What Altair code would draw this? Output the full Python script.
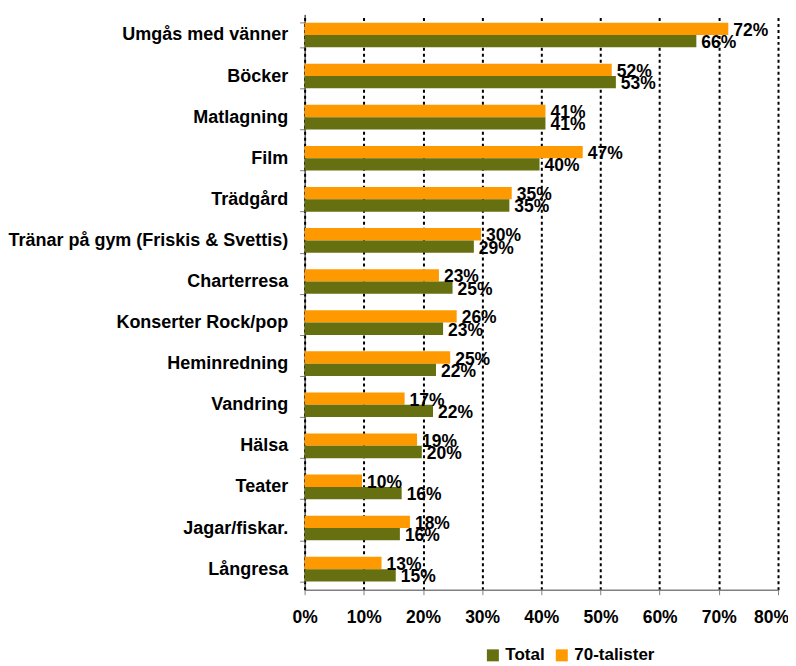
import altair as alt
import pandas as pd

categories = [
    "Umgås med vänner", "Böcker", "Matlagning", "Film", "Trädgård",
    "Tränar på gym (Friskis & Svettis)", "Charterresa", "Konserter Rock/pop",
    "Heminredning", "Vandring", "Hälsa", "Teater", "Jagar/fiskar.", "Långresa",
]
total = [0.662, 0.526, 0.407, 0.397, 0.346, 0.286, 0.250, 0.234, 0.222, 0.217, 0.198, 0.164, 0.161, 0.154]
seventies = [0.716, 0.519, 0.407, 0.470, 0.350, 0.298, 0.227, 0.257, 0.246, 0.169, 0.190, 0.097, 0.178, 0.130]
series = ["Total", "70-talister"]
colors = ["#667010", "#FF9900"]

rows = []
for c, t, s in zip(categories, total, seventies):
    rows.append({"cat": c, "series": "70-talister", "value": s})
    rows.append({"cat": c, "series": "Total", "value": t})
df = pd.DataFrame(rows)

FONT = "Arial, Liberation Sans, sans-serif"

y = alt.Y("cat:N", sort=categories,
          scale=alt.Scale(paddingInner=0.4, paddingOuter=0.2),
          axis=alt.Axis(title=None, labelFont=FONT, labelFontSize=18, labelFontWeight="bold",
                        labelColor="black", labelPadding=12, tickBand="extent",
                        tickColor="#808080", tickSize=5, domainColor="black", domainWidth=1,
                        labelLimit=400))
yoff = alt.YOffset("series:N", scale=alt.Scale(domain=["70-talister", "Total"]))

base = alt.Chart(df)

bars = base.mark_bar().encode(
    y=y,
    yOffset=yoff,
    x=alt.X("value:Q", scale=alt.Scale(domain=[0, 0.8]),
            axis=alt.Axis(title=None, values=[0, 0.1, 0.2, 0.3, 0.4, 0.5, 0.6, 0.7, 0.8],
                          format=".0%", labelFont=FONT, labelFontSize=17.5, labelFontWeight="bold",
                          labelColor="black", labelPadding=14, labelFlush=False,
                          labelOffset={"condition": {"test": "datum.value >= 0.79", "value": -7}, "value": 0},
                          tickColor="#808080", tickSize=5,
                          domainColor="#808080", domainWidth=1.5, grid=True, gridColor="black",
                          gridDash=[3, 3], gridWidth=2)),
    color=alt.Color("series:N", scale=alt.Scale(domain=series, range=colors),
                    legend=alt.Legend(title=None, orient="none", direction="horizontal",
                                      legendX=180, legendY=633, symbolType="square",
                                      symbolSize=144, symbolStrokeWidth=0, symbolOpacity=1,
                                      labelFont=FONT, labelFontSize=17, labelFontWeight="bold",
                                      labelColor="black", labelOffset=4, columnPadding=8)),
)

labels = base.mark_text(align="left", baseline="middle", dx=5, dy=2, font=FONT,
                        fontSize=17.5, fontWeight="bold", color="black").encode(
    y=y,
    yOffset=yoff,
    x=alt.X("value:Q"),
    text=alt.Text("value:Q", format=".0%"),
)

chart = alt.layer(bars, labels).properties(
    width=474, height=576,
    autosize=alt.AutoSizeParams(type="none"),
    padding={"left": 297, "top": 6, "right": 10, "bottom": 74},
).configure_view(stroke=None).configure_axis(gridOpacity=1)

chart.save("out.html", embed_options={"renderer": "svg", "actions": False})
